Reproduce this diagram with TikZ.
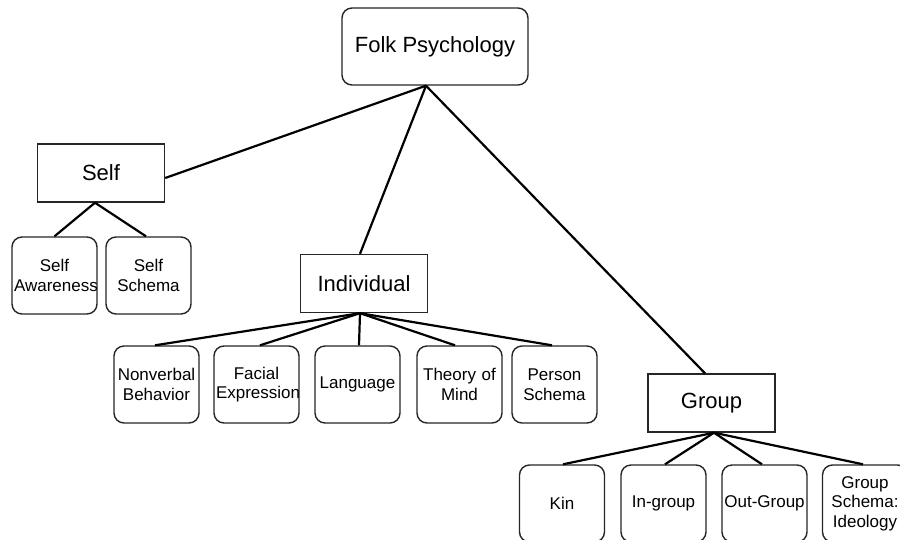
\documentclass[tikz,border=0pt]{standalone}
\usepackage{fontspec}
\setmainfont{Liberation Sans}
\begin{document}
\begin{tikzpicture}[x=1pt,y=-1pt,
  topbox/.style={draw=black!85, line width=1.4pt, rounded corners=10pt, minimum width=186pt, minimum height=77pt, inner sep=0pt, font=\fontsize{22}{24}\selectfont},
  midbox/.style={draw=black!85, line width=1.4pt, minimum width=127pt, minimum height=58pt, inner sep=0pt, font=\fontsize{22}{24}\selectfont},
  leaf/.style={draw=black!85, line width=1.4pt, rounded corners=10pt, minimum width=85pt, minimum height=77pt, inner sep=2pt, text width=81pt, align=center, font=\fontsize{17}{19.5}\selectfont},
  conn/.style={line width=2.2pt, black}]
\fill[white] (0,0) rectangle (900,539);
\clip (0,0) rectangle (900,539);
\node[topbox] (folk) at (435,46.5) {Folk Psychology};
\node[midbox] (self) at (101,173) {Self};
\node[midbox] (ind) at (364,283.5) {Individual};
\node[midbox] (grp) at (711.5,403) {Group};
% self leaves
\node[leaf] (sa) at (54.5,275.5) {Self\\Awareness};
\node[leaf] (ss) at (148.5,275.5) {Self\\Schema};
% individual leaves
\node[leaf] (nv) at (156.5,384.5) {Nonverbal\\Behavior};
\node[leaf] (fe) at (256.5,384.5) {Facial\\Expression};
\node[leaf] (la) at (357.5,384.5) {Language};
\node[leaf] (tm) at (459.5,384.5) {Theory of\\Mind};
\node[leaf] (ps) at (554.5,384.5) {Person\\Schema};
% group leaves
\node[leaf] (kin) at (562,503.5) {Kin};
\node[leaf] (ing) at (663.5,503.5) {In-group};
\node[leaf] (outg) at (764.5,503.5) {Out-Group};
\node[leaf] (gs) at (865,503.5) {Group\\Schema:\\Ideology};
% connectors
\coordinate (fb) at ([xshift=-9pt]folk.south);
\draw[conn] (fb) -- ([yshift=-5pt]self.east);
\draw[conn] (fb) -- ([xshift=-4pt]ind.north);
\draw[conn] (fb) -- ([xshift=-6.5pt]grp.north);
\coordinate (sb) at ([xshift=-6pt]self.south);
\draw[conn] (sb) -- (sa.north);
\draw[conn] (sb) -- ([xshift=-2.5pt]ss.north);
\coordinate (ib) at ([xshift=-4pt]ind.south);
\draw[conn] (ib) -- ([xshift=-1.5pt]nv.north);
\draw[conn] (ib) -- ([xshift=3.5pt]fe.north);
\draw[conn] (ib) -- ([xshift=1.5pt]la.north);
\draw[conn] (ib) -- ([xshift=-4.5pt]tm.north);
\draw[conn] (ib) -- ([xshift=-2.5pt]ps.north);
\coordinate (gb) at ([xshift=2.5pt]grp.south);
\draw[conn] (gb) -- ([xshift=1pt]kin.north);
\draw[conn] (gb) -- ([xshift=1.5pt]ing.north);
\draw[conn] (gb) -- ([xshift=-2.5pt]outg.north);
\draw[conn] (gb) -- ([xshift=-2pt]gs.north);
\end{tikzpicture}
\end{document}
